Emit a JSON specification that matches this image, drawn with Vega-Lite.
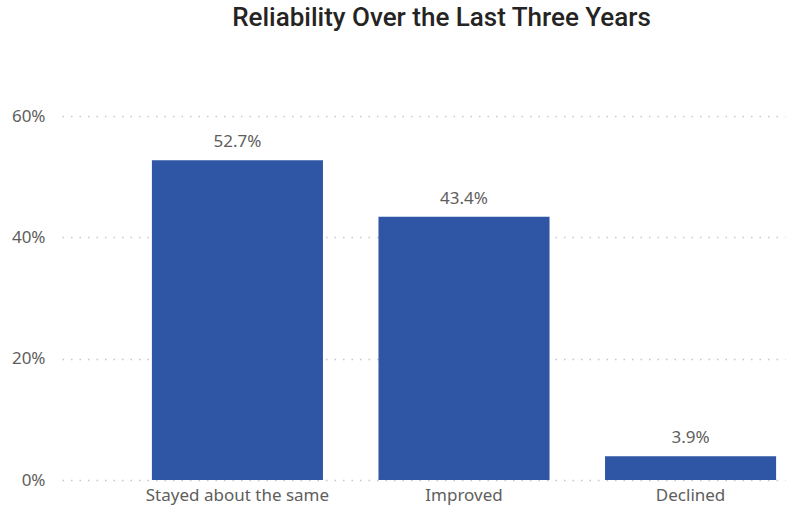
{
  "$schema": "https://vega.github.io/schema/vega-lite/v6.json",
  "autosize": "none",
  "width": 723,
  "height": 364,
  "padding": {"left": 62, "top": 116, "right": 3, "bottom": 30},
  "background": "white",
  "title": {
    "text": "Reliability Over the Last Three Years",
    "font": "Roboto",
    "fontSize": 26,
    "fontWeight": 500,
    "color": "#252423",
    "anchor": "middle",
    "dx": 18,
    "offset": 76
  },
  "data": {
    "values": [
      {"category": "Stayed about the same", "value": 0.527},
      {"category": "Improved", "value": 0.434},
      {"category": "Declined", "value": 0.039}
    ]
  },
  "encoding": {
    "x": {
      "field": "category",
      "type": "nominal",
      "sort": null,
      "scale": {"paddingInner": 0.245, "paddingOuter": 0.218, "align": 0.91},
      "axis": {
        "title": null,
        "labelAngle": 0,
        "labelFont": "Noto Sans",
        "labelFontSize": 17,
        "labelColor": "#605E5C",
        "labelPadding": 7,
        "labelLimit": 400,
        "domain": false,
        "ticks": false,
        "grid": false
      }
    },
    "y": {
      "field": "value",
      "type": "quantitative",
      "scale": {"domain": [0, 0.6], "nice": false},
      "axis": {
        "title": null,
        "format": ".0%",
        "values": [0, 0.2, 0.4, 0.6],
        "labelFont": "Noto Sans",
        "labelFontSize": 17,
        "labelColor": "#605E5C",
        "labelPadding": 17,
        "domain": false,
        "ticks": false,
        "grid": true,
        "gridColor": "#C8C8C8",
        "gridDash": [1.5, 7],
        "gridWidth": 1.5
      }
    }
  },
  "layer": [
    {"mark": {"type": "bar", "color": "#2F55A5"}},
    {
      "mark": {"type": "text", "baseline": "bottom", "dy": -9, "font": "Noto Sans", "fontSize": 17, "color": "#605E5C"},
      "encoding": {"text": {"field": "value", "type": "quantitative", "format": ".1%"}}
    }
  ],
  "config": {"view": {"stroke": null}}
}
